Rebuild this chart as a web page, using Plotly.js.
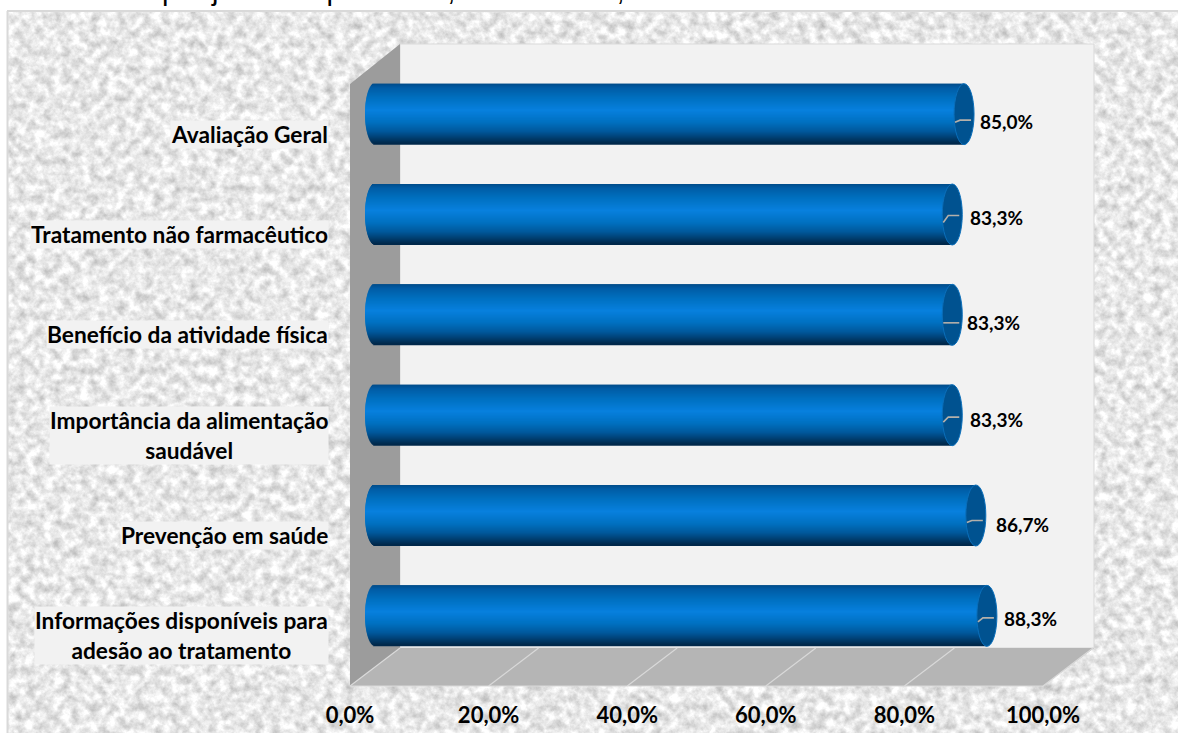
<!DOCTYPE html>
<html><head><meta charset="utf-8">
<script src="https://cdn.plot.ly/plotly-3.0.1.min.js"></script>
<style>html,body{margin:0;padding:0;background:#fff;overflow:hidden}</style>
</head><body><div id="chart" style="width:1178px;height:733px"></div>
<script>
const categories = ["Informações disponíveis para<br>adesão ao tratamento","Prevenção em saúde","Importância da alimentação<br>saudável","Benefício da atividade física","Tratamento não farmacêutico","Avaliação Geral"];
const values = [88.3,86.7,83.3,83.3,83.3,85.0];
const tickValues = [0,20,40,60,80,100];
const tickLabels = ["0,0%","20,0%","40,0%","60,0%","80,0%","100,0%"];
const titleText = "por juízes especialista, Belém-Pará, 2018";

const W=1178,H=733,FONT="Lato, 'Open Sans', sans-serif";
const px=v=>v/W, py=v=>1-v/H;
const PXU=6.93, YU=100.33;          // pixels per x-unit / per category
const leaderDrop=[[6,2],[7,5],[7,2],[8,8],[8,1],[8,6]];   // px below the bar centre
const labelDrop=[3,9,4,8,3,7];
const labelGap=[15,18,16,13,16,14];

// cylinder shading, top to bottom
const stops=[[0,[0,72,130]],[0.08,[0,92,165]],[0.25,[0,112,192]],[0.45,[8,128,222]],[0.65,[0,112,192]],[0.8,[0,88,155]],[0.92,[0,58,105]],[1,[0,38,72]]];
function shade(t){for(let i=1;i<stops.length;i++){if(t<=stops[i][0]){const a=stops[i-1],b=stops[i],f=(t-a[0])/(b[0]-a[0]);
  return 'rgb('+a[1].map((c,k)=>Math.round(c+(b[1][k]-c)*f)).join(',')+')';}}return 'rgb(0,38,72)';}

const BANDS=61, BAR=61/YU, RX=10/PXU, LEFT=3, H1=BAR/BANDS;
const traces=[];
for(let b=0;b<BANDS;b++){
  const t=(b+0.5)/BANDS, u=2*t-1, inset=RX*Math.sqrt(1-u*u);
  const top=BAR/2-b*H1+(b?H1:0);
  traces.push({type:'bar',orientation:'h',xaxis:'x2',yaxis:'y2',
    y:values.map((_,i)=>i), base:values.map(()=>-inset), x:values.map(v=>v+inset),
    offset:BAR/2-(b+1)*H1, width:top-(BAR/2-(b+1)*H1),
    marker:{color:shade(t),line:{width:0}},hoverinfo:'skip',showlegend:false});
}
traces.push({type:'scatter',mode:'markers',x:[0],y:[0],xaxis:'x',yaxis:'y',marker:{opacity:0},hoverinfo:'skip',showlegend:false});

const shapes=[];
const poly=(pts,fill,line)=>shapes.push({type:'path',xref:'paper',yref:'paper',layer:'below',
  path:'M'+pts.map(p=>px(p[0])+','+py(p[1])).join('L')+'Z',fillcolor:fill,line:line||{width:0}});
poly([[400,44],[1094,44],[1094,648],[400,648]],'#f2f2f2',{color:'#d9d9d9',width:1});
poly([[350,84],[400,44],[400,648],[350,686]],'#9c9c9c');
poly([[350,686],[1043,686],[1094,648],[400,648]],'#b5b5b5');
tickValues.forEach(v=>{const a=350+v*PXU;
  shapes.push({type:'line',xref:'paper',yref:'paper',layer:'below',x0:px(a),y0:py(686),x1:px(a+50),y1:py(648),line:{color:'#d9d9d9',width:1.2}});});
shapes.push({type:'line',xref:'paper',yref:'paper',layer:'below',x0:px(350),y0:py(686),x1:px(1043),y1:py(686),line:{color:'#d9d9d9',width:1}});
shapes.push({type:'line',xref:'paper',yref:'paper',layer:'below',x0:px(7.5),y0:py(733),x1:px(7.5),y1:py(11),line:{color:'#d9d9d9',width:2}});
shapes.push({type:'line',xref:'paper',yref:'paper',layer:'below',x0:px(7),y0:py(11),x1:px(1178),y1:py(11),line:{color:'#d9d9d9',width:2}});

values.forEach((v,i)=>{
  shapes.push({type:'circle',xref:'x2',yref:'y2',x0:v-RX,x1:v+RX,y0:i-BAR/2,y1:i+BAR/2,fillcolor:'#005290',line:{color:'#0a6fbb',width:1},layer:'above'});
});
values.forEach((v,i)=>{
  const d=leaderDrop[i];
  shapes.push({type:'path',xref:'x2',yref:'y2',layer:'above',
    path:'M'+(v-9/PXU)+','+(i-d[0]/YU)+'L'+(v-4/PXU)+','+(i-d[1]/YU)+'L'+(v+7/PXU)+','+(i-d[1]/YU),
    line:{color:'#b4b0aa',width:1.6}});
});

const annotations=[];
categories.forEach((c,i)=>annotations.push({xref:'paper',yref:'y',x:px(329),y:i,xanchor:'right',yanchor:'middle',align:'center',
  text:c,showarrow:false,bgcolor:'#f2f2f2',borderpad:0,font:{family:FONT,size:22.7,color:'#000',weight:700}}));
values.forEach((v,i)=>annotations.push({xref:'x2',yref:'y2',x:v,y:i,xanchor:'left',yanchor:'middle',xshift:labelGap[i],yshift:-labelDrop[i],
  text:v.toFixed(1).replace('.',',')+'%',showarrow:false,font:{family:FONT,size:19,color:'#000',weight:700}}));
annotations.push({xref:'paper',yref:'paper',x:px(160),y:py(8),xanchor:'left',yanchor:'bottom',text:titleText,showarrow:false,
  font:{family:'Liberation Sans, Arial, sans-serif',size:29,color:'#000'}});

const svg="<svg xmlns='http://www.w3.org/2000/svg' width='1170' height='721'><filter id='f' x='0' y='0' width='100%' height='100%' color-interpolation-filters='sRGB'><feTurbulence type='fractalNoise' baseFrequency='0.11' numOctaves='4' seed='7'/><feColorMatrix values='0.42 0 0 0 0.70 0.42 0 0 0 0.70 0.42 0 0 0 0.70 0 0 0 0 1'/><feGaussianBlur stdDeviation='0.7'/></filter><rect width='1170' height='721' filter='url(#f)'/></svg>";

const layout={width:W,height:H,margin:{l:0,r:0,t:0,b:0},paper_bgcolor:'#fff',plot_bgcolor:'rgba(0,0,0,0)',barmode:'overlay',showlegend:false,
  images:[{source:'data:image/svg+xml;utf8,'+encodeURIComponent(svg),xref:'paper',yref:'paper',x:px(8),y:py(12),sizex:1170/W,sizey:721/H,xanchor:'left',yanchor:'top',sizing:'stretch',layer:'below'}],
  xaxis:{domain:[px(350),px(1094)],range:[0,744/PXU],anchor:'y',tickmode:'array',tickvals:tickValues,ticktext:tickLabels,showgrid:false,zeroline:false,showline:false,
    ticks:'outside',ticklen:10,tickcolor:'rgba(0,0,0,0)',tickfont:{family:FONT,size:22,color:'#000',weight:700}},
  yaxis:{domain:[py(686),py(84)],range:[-0.5,5.5],anchor:'x',showticklabels:false,showgrid:false,zeroline:false,showline:false,ticks:''},
  xaxis2:{domain:[px(375-LEFT*PXU),px(1068)],range:[-LEFT,100],anchor:'y2',visible:false},
  yaxis2:{domain:[py(666),py(64)],range:[-0.5,5.5],anchor:'x2',visible:false},
  shapes,annotations};
Plotly.newPlot('chart',traces,layout,{displayModeBar:false,staticPlot:true});
</script></body></html>
